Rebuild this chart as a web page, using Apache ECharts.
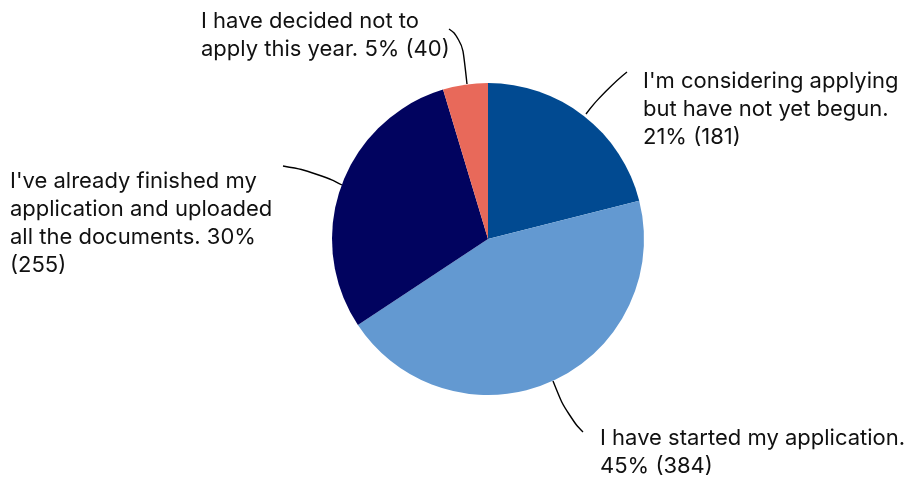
<!DOCTYPE html>
<html>
<head>
<meta charset="utf-8">
<script src="https://cdn.jsdelivr.net/npm/echarts@6/dist/echarts.min.js"></script>
<style>
  html, body { margin: 0; padding: 0; background: #fff; }
  #chart { width: 912px; height: 485px; }
</style>
</head>
<body>
<div id="chart"></div>
<script>
// Application status survey responses
const categories = [
  "I'm considering applying\nbut have not yet begun.",
  "I have started my application.",
  "I've already finished my\napplication and uploaded\nall the documents.",
  "I have decided not to\napply this year."
];
const counts = [181, 384, 255, 40];
const percentLabels = ["21%", "45%", "30%", "5%"];
const colors = ["#014a91", "#6399d1", "#01035f", "#e8695a"];

// Label placement (text anchor and leader line path) per slice
const labelPlacement = [
  { x: 643, y: 67, line: [[586, 114], [604, 90], [627, 72]], sep: "\n" },
  { x: 600, y: 424, line: [[553, 381], [567, 416], [583, 432]], sep: "\n" },
  { x: 10, y: 167, line: [[342, 185], [318, 172], [283, 166]], sep: " " },
  { x: 201, y: 7, line: [[467, 84], [462, 38], [449, 29]], sep: " " }
];

function labelText(i) {
  const tail = percentLabels[i];
  const cnt = "(" + counts[i] + ")";
  if (i === 2) return categories[i] + " " + tail + "\n" + cnt;
  return categories[i] + labelPlacement[i].sep + tail + " " + cnt;
}

const chart = echarts.init(document.getElementById('chart'), null, { renderer: 'canvas' });
chart.setOption({
  animation: false,
  backgroundColor: '#ffffff',
  series: [{
    type: 'pie',
    center: [488, 239],
    radius: [0, 156],
    startAngle: 90,
    clockwise: true,
    data: categories.map((c, i) => ({
      name: c,
      value: counts[i],
      itemStyle: { color: colors[i] }
    })),
    label: {
      show: true,
      position: 'outer',
      formatter: p => labelText(p.dataIndex),
      fontFamily: 'Inter',
      fontSize: 22,
      lineHeight: 28,
      color: '#111111'
    },
    labelLine: {
      show: true,
      smooth: 0.6,
      lineStyle: { color: '#000000', width: 1.4 }
    },
    labelLayout: params => {
      const p = labelPlacement[params.dataIndex];
      return {
        x: p.x,
        y: p.y,
        align: 'left',
        verticalAlign: 'top',
        labelLinePoints: p.line
      };
    },
    emphasis: { disabled: true }
  }]
});
</script>
</body>
</html>
